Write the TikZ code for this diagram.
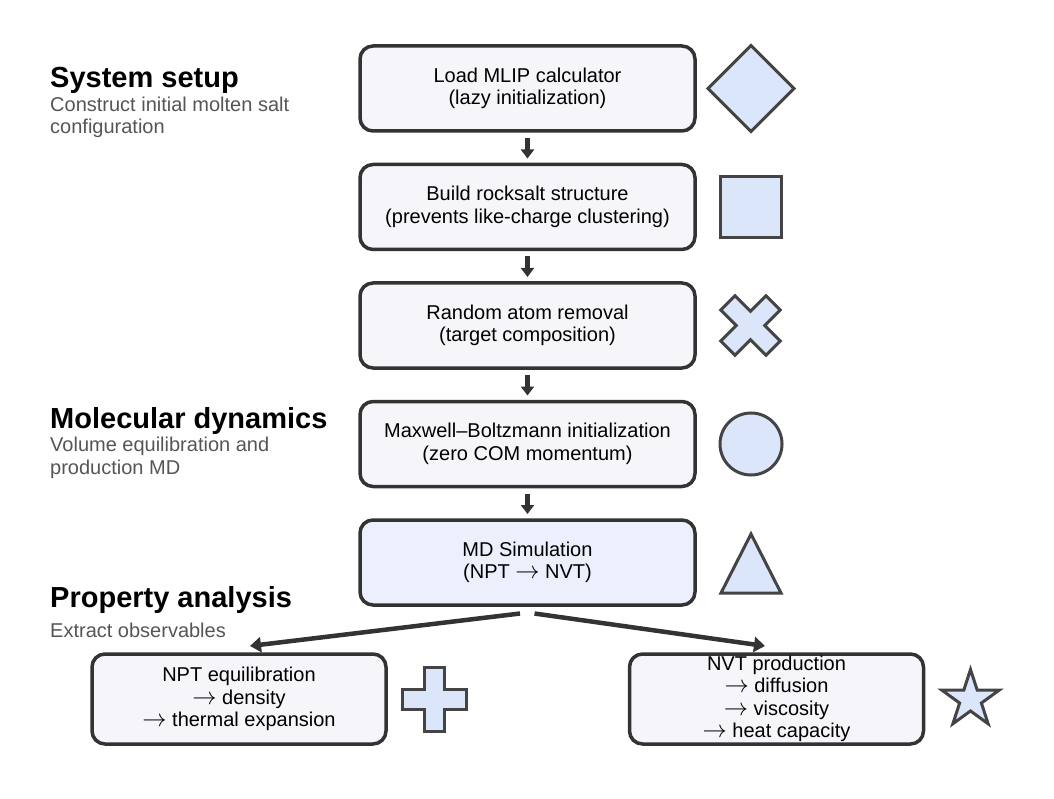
\documentclass[tikz,border=0pt]{standalone}
\usepackage{graphicx}
\usepackage{fontspec}
\setmainfont{Liberation Sans}
\newcommand{\rarr}{\scalebox{1.17}{$\rightarrow$}}
\usetikzlibrary{arrows.meta,positioning,shapes.geometric}
\definecolor{InkGray}{HTML}{333333}
\definecolor{GlyphEdge}{HTML}{444444}
\definecolor{GlyphFill}{HTML}{DCE6FB}
\definecolor{StageFill}{HTML}{F5F5FA}
\definecolor{RunFill}{HTML}{EBF0FC}
\definecolor{SubGray}{HTML}{555555}

\begin{document}
\begin{tikzpicture}[x=1pt,y=1pt,
font=\fontsize{20}{22.5}\selectfont,
stage/.style={draw=InkGray,fill=StageFill,line width=3.5pt,rounded corners=13pt,minimum width=335pt,minimum height=85pt,align=center,inner sep=0pt,outer sep=0pt},
result/.style={stage,minimum width=294pt,minimum height=90pt},
glyph/.style={draw=GlyphEdge,fill=GlyphFill,line width=3pt,inner sep=0pt,outer sep=0pt},
head/.style={font=\fontsize{29}{33}\selectfont\bfseries,anchor=base west,inner sep=0pt},
sub/.style={text=SubGray,align=left,anchor=base west,inner sep=0pt},
link/.style={draw=InkGray,line width=4.5pt,-{Triangle[length=9pt,width=13pt]},shorten <=7pt,shorten >=6pt},
branch/.style={draw=InkGray,line width=4.5pt,-{Triangle[length=11pt,width=15pt]}},
plusglyph/.pic={\draw[glyph] (10,32) -- (10,10) -- (32,10) -- (32,-10) -- (10,-10) -- (10,-32) -- (-10,-32) -- (-10,-10) -- (-32,-10) -- (-32,10) -- (-10,10) -- (-10,32) -- cycle;}]
\useasboundingbox (0,0) rectangle (1054,-799);
% section labels
\node[head] (t1) at (50,-88) {System setup};
\node[sub] (d1) at (50,-134) {Construct initial molten salt\\configuration};
\node[head] (t2) at (50,-428) {Molecular dynamics};
\node[sub] (d2) at (50,-474) {Volume equilibration and\\production MD};
\node[head] (t3) at (50,-607) {Property analysis};
\node[sub] (d3) at (50,-637) {Extract observables};
% main pipeline
\node[stage] (b1) at (527.5,-88.5) {Load MLIP calculator\\(lazy initialization)};
\node[stage,below=33.5pt of b1] (b2) {Build rocksalt structure\\(prevents like-charge clustering)};
\node[stage,below=33.5pt of b2] (b3) {Random atom removal\\(target composition)};
\node[stage,below=33.5pt of b3] (b4) {Maxwell–Boltzmann initialization\\(zero COM momentum)};
\node[stage,fill=RunFill,below=33.5pt of b4] (b5) {MD Simulation\\(NPT \rarr{} NVT)};
\node[result,below=49pt of b5,xshift=-288.5pt] (n1) {NPT equilibration\\\rarr{} density\\\rarr{} thermal expansion};
\node[result,below=49pt of b5,xshift=249pt] (n2) {NVT production\\\rarr{} diffusion\\\rarr{} viscosity\\\rarr{} heat capacity};
\foreach \a/\b in {b1/b2,b2/b3,b3/b4,b4/b5}
  \draw[link] (\a) -- (\b);
\draw[branch] ([xshift=-7.5pt,yshift=-8.5pt]b5.south) -- ([xshift=11pt,yshift=8pt]n1.north);
\draw[branch] ([xshift=7pt,yshift=-8.5pt]b5.south) -- ([xshift=-11.5pt,yshift=8pt]n2.north);
% markers
\node[glyph,diamond,minimum width=86pt,minimum height=86pt,right=13pt of b1] (g1) {};
\node[glyph,minimum width=61pt,minimum height=61pt,right=25.5pt of b2] (g2) {};
\pic[rotate=45] at ([xshift=55.5pt]b3.east) {plusglyph};
\node[glyph,circle,minimum size=62pt,right=25pt of b4] (g4) {};
\draw[glyph] ([xshift=56pt,yshift=28.5pt]b5.east) -- ([xshift=26pt,yshift=-30.5pt]b5.east) -- ([xshift=86pt,yshift=-30.5pt]b5.east) -- cycle;
\pic at ([xshift=48.5pt]n1.east) {plusglyph};
\node[glyph,star,star points=5,star point ratio=2.618,minimum size=60pt] (g7) at ([xshift=47pt,yshift=-0.5pt]n2.east) {};
\end{tikzpicture}
\end{document}
